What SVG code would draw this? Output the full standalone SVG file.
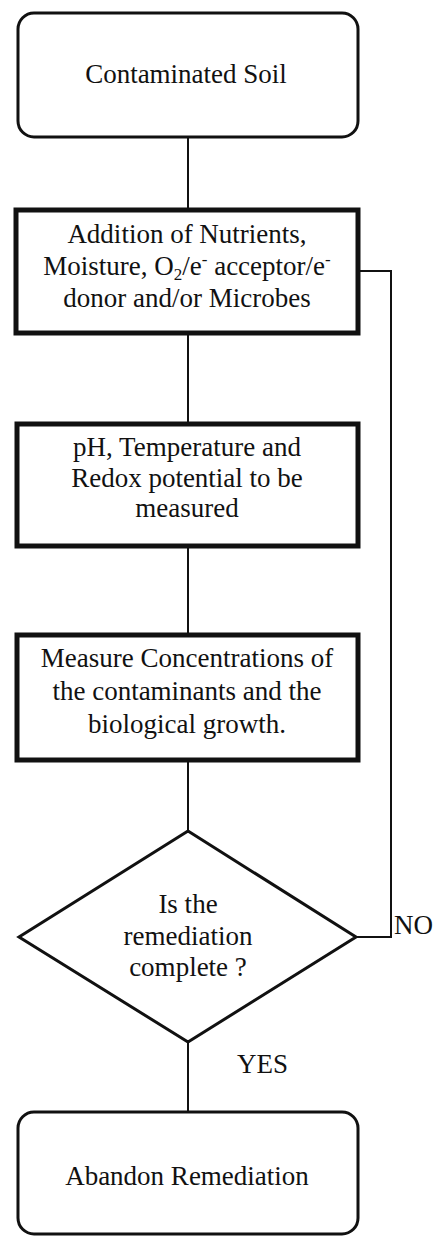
<svg xmlns="http://www.w3.org/2000/svg" width="437" height="1237" viewBox="0 0 437 1237">
<style>
.t{font-family:'Liberation Serif',Tinos,'DejaVu Serif',serif;font-size:27px;fill:#111;text-anchor:middle}
.lbl{font-family:'Liberation Serif',Tinos,'DejaVu Serif',serif;font-size:27px;fill:#111}
.rr{fill:#fff;stroke:#111;stroke-width:3}
.bx{fill:#fff;stroke:#111;stroke-width:5}
.dm{fill:#fff;stroke:#111;stroke-width:3;stroke-linejoin:miter}
.c{fill:none;stroke:#111;stroke-width:2}
</style>
<rect width="437" height="1237" fill="#fff"/>
<g id="connectors">
<line class="c" x1="188" y1="137" x2="188" y2="209"/>
<line class="c" x1="188" y1="334" x2="188" y2="423"/>
<line class="c" x1="188" y1="547" x2="188" y2="634"/>
<line class="c" x1="188" y1="761" x2="188" y2="831"/>
<line class="c" x1="188" y1="1042" x2="188" y2="1112"/>
<polyline class="c" points="356,937 391,937 391,271 358,271"/>
</g>
<g id="n1">
<rect class="rr" x="18" y="13" width="340" height="124" rx="16"/>
<text class="t" x="186" y="83">Contaminated Soil</text>
</g>
<g id="n2">
<rect class="bx" x="16" y="210" width="342" height="123"/>
<text class="t" x="187" y="243">Addition of Nutrients,</text>
<text class="t" x="187" y="275">Moisture, O<tspan font-size="17" dy="5">2</tspan><tspan dy="-5">/e</tspan><tspan font-size="17" dy="-10">-</tspan><tspan dy="10"> acceptor/e</tspan><tspan font-size="17" dy="-10">-</tspan></text>
<text class="t" x="187" y="307">donor and/or Microbes</text>
</g>
<g id="n3">
<rect class="bx" x="17" y="424" width="341" height="122"/>
<text class="t" x="187" y="456">pH, Temperature and</text>
<text class="t" x="187" y="487">Redox potential to be</text>
<text class="t" x="187" y="517">measured</text>
</g>
<g id="n4">
<rect class="bx" x="17" y="635" width="341" height="125"/>
<text class="t" x="187" y="667">Measure Concentrations of</text>
<text class="t" x="187" y="700">the contaminants and the</text>
<text class="t" x="187" y="733">biological  growth.</text>
</g>
<g id="n5">
<polygon class="dm" points="188,831 356,937 188,1042 19,937"/>
<text class="t" x="188" y="913">Is the</text>
<text class="t" x="188" y="945">remediation</text>
<text class="t" x="188" y="976">complete ?</text>
</g>
<g id="n6">
<rect class="rr" x="18" y="1112" width="340" height="122" rx="16"/>
<text class="t" x="187" y="1185">Abandon Remediation</text>
</g>
<g id="labels">
<text class="lbl" x="394" y="934">NO</text>
<text class="lbl" x="237" y="1073">YES</text>
</g>
</svg>
